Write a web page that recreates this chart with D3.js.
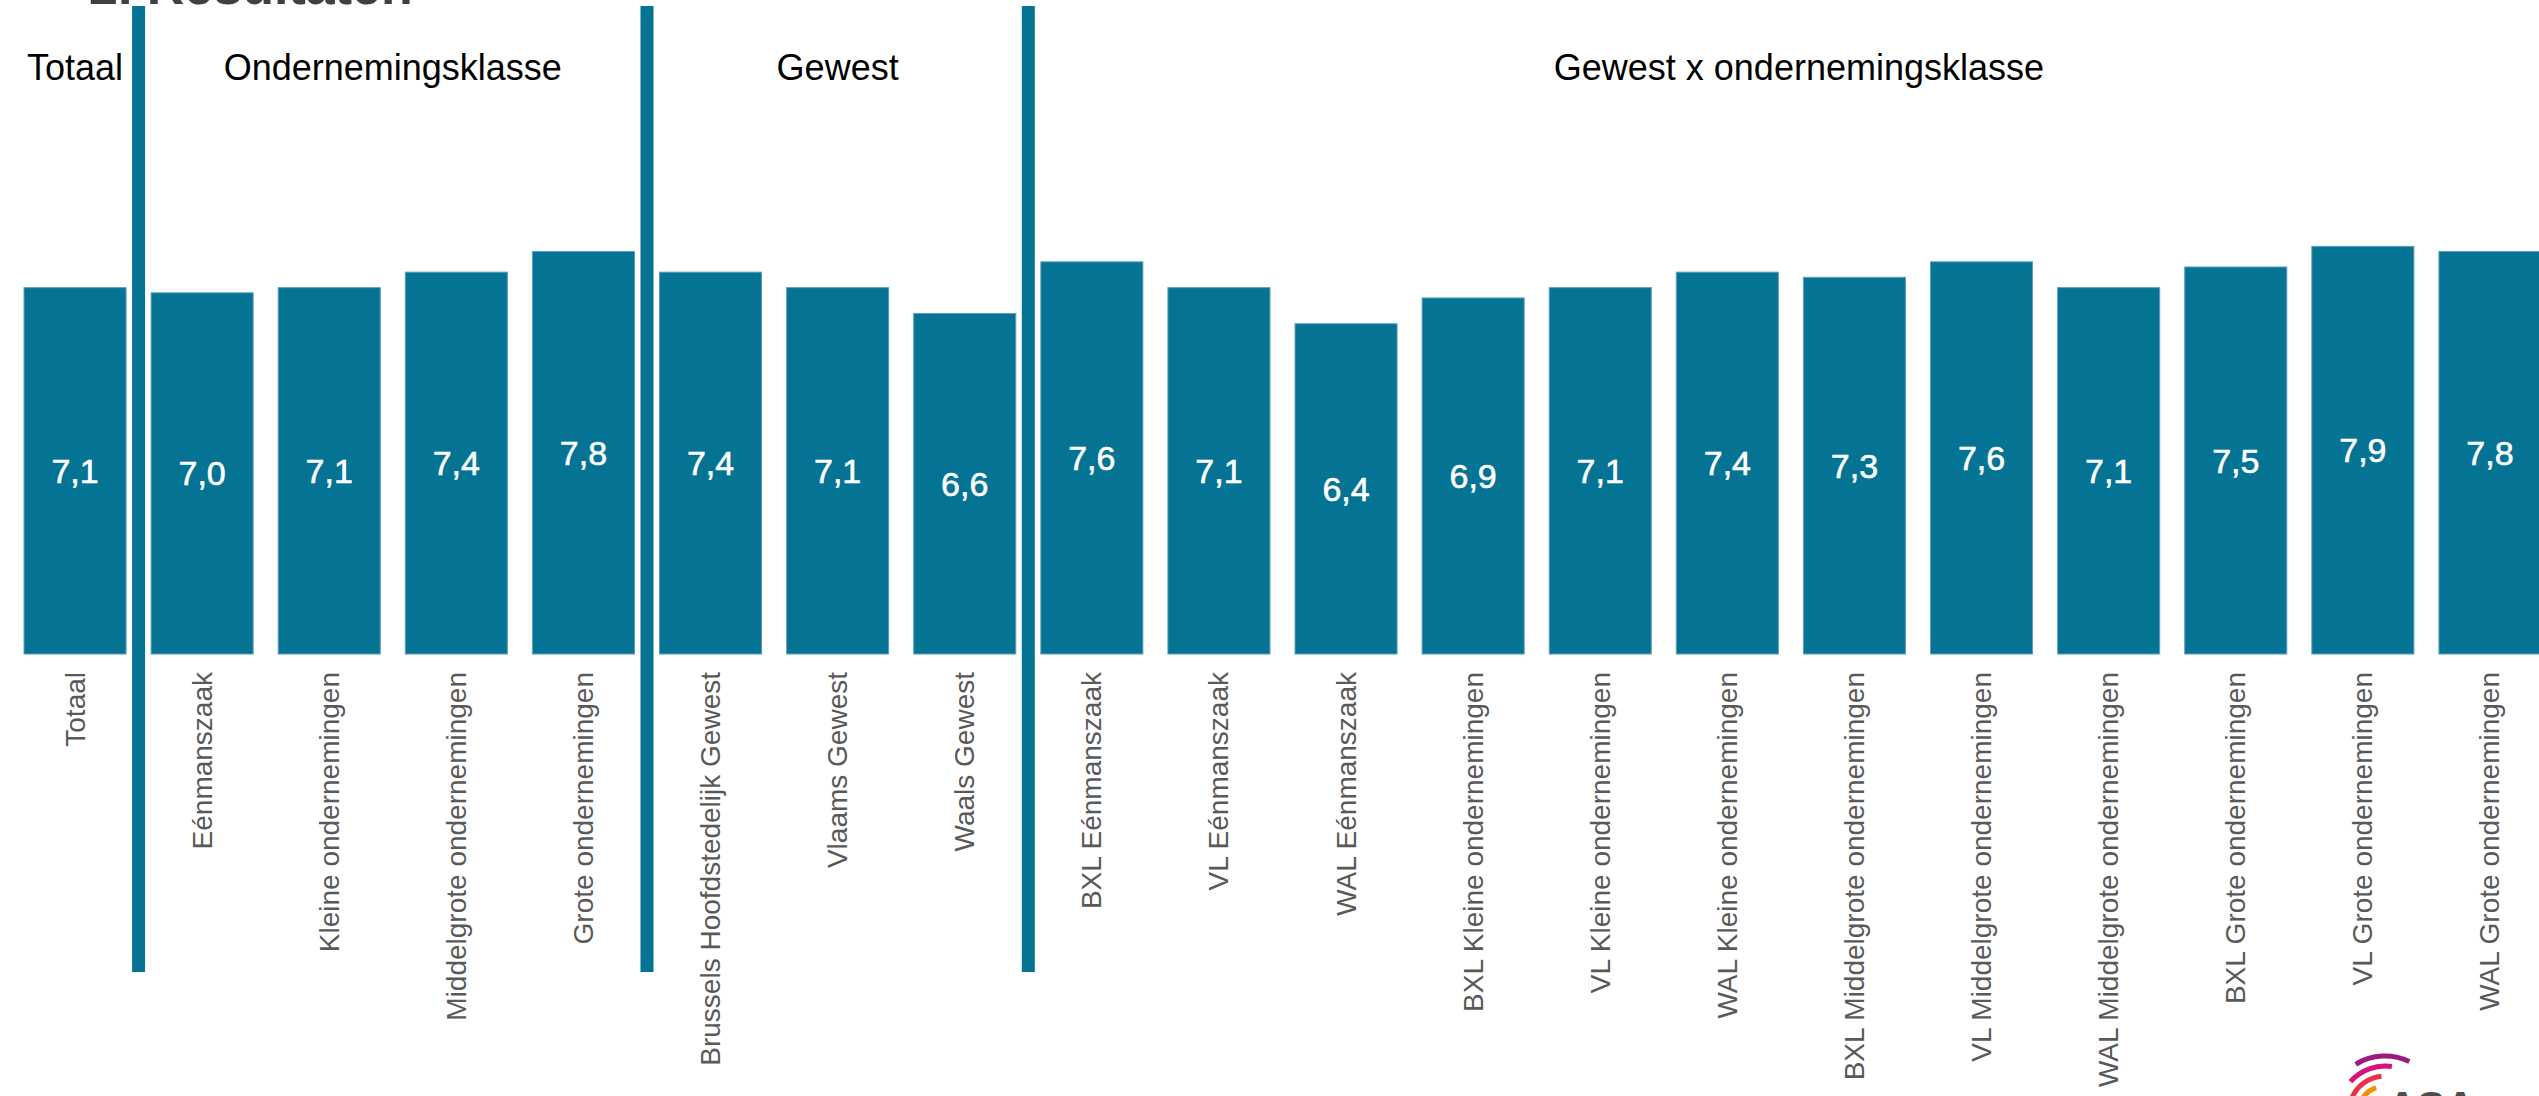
<!DOCTYPE html>
<html>
<head>
<meta charset="utf-8">
<script src="https://cdn.jsdelivr.net/npm/d3@7"></script>
<style>
  html, body { margin: 0; padding: 0; background: #ffffff; overflow: hidden; }
  svg { display: block; }
</style>
</head>
<body>
<svg id="chart" width="2539" height="1096"></svg>
<script>
// ---- data ----
const categories = [
  "Totaal",
  "Eénmanszaak",
  "Kleine ondernemingen",
  "Middelgrote ondernemingen",
  "Grote ondernemingen",
  "Brussels Hoofdstedelijk Gewest",
  "Vlaams Gewest",
  "Waals Gewest",
  "BXL Eénmanszaak",
  "VL Eénmanszaak",
  "WAL Eénmanszaak",
  "BXL Kleine ondernemingen",
  "VL Kleine ondernemingen",
  "WAL Kleine ondernemingen",
  "BXL Middelgrote ondernemingen",
  "VL Middelgrote ondernemingen",
  "WAL Middelgrote ondernemingen",
  "BXL Grote ondernemingen",
  "VL Grote ondernemingen",
  "WAL Grote ondernemingen"
];
const values = [7.1, 7.0, 7.1, 7.4, 7.8, 7.4, 7.1, 6.6, 7.6, 7.1, 6.4, 6.9, 7.1, 7.4, 7.3, 7.6, 7.1, 7.5, 7.9, 7.8];
const groupNames = ["Totaal", "Ondernemingsklasse", "Gewest", "Gewest x ondernemingsklasse"];
const groupOf = [0, 1, 1, 1, 1, 2, 2, 2, 3, 3, 3, 3, 3, 3, 3, 3, 3, 3, 3, 3];
const pageTitle = "2. Resultaten";

// ---- layout ----
const W = 2539, H = 1096;
const svg = d3.select("#chart");
const barColor = "#047394";

const x = d3.scaleBand()
  .domain(categories)
  .range([24, 2541])
  .paddingInner(0.197)
  .paddingOuter(0);

const y = d3.scaleLinear().domain([0, 10]).range([654, 138]);

const fmt = v => d3.format(".1f")(v).replace(".", ",");

const data = categories.map((c, i) => ({ cat: c, value: values[i], group: groupOf[i] }));

// partially visible slide title at the very top
svg.append("text")
  .attr("x", 89)
  .attr("y", 4)
  .attr("font-family", "Liberation Sans, Arial, sans-serif")
  .attr("font-weight", "bold")
  .attr("font-size", 52)
  .attr("fill", "#404040")
  .text(pageTitle);

// bars
svg.append("g").selectAll("rect")
  .data(data)
  .join("rect")
  .attr("x", d => x(d.cat))
  .attr("y", d => y(d.value))
  .attr("width", x.bandwidth())
  .attr("height", d => y(0) - y(d.value))
  .attr("fill", barColor)
  .attr("stroke", "#5d9fb7")
  .attr("stroke-width", 1);

// value labels (centred in bars)
svg.append("g").selectAll("text")
  .data(data)
  .join("text")
  .attr("x", d => x(d.cat) + x.bandwidth() / 2)
  .attr("y", d => (y(d.value) + y(0)) / 2)
  .attr("text-anchor", "middle")
  .attr("dominant-baseline", "central")
  .attr("font-family", "Liberation Sans, Arial, sans-serif")
  .attr("font-size", 34)
  .attr("fill", "#ffffff")
  .attr("stroke", "#ffffff")
  .attr("stroke-width", 0.6)
  .text(d => fmt(d.value));

// category labels (rotated)
svg.append("g").selectAll("text")
  .data(data)
  .join("text")
  .attr("transform", d => `translate(${x(d.cat) + x.bandwidth() / 2},672) rotate(-90)`)
  .attr("text-anchor", "end")
  .attr("dominant-baseline", "central")
  .attr("font-family", "Liberation Sans, Arial, sans-serif")
  .attr("font-size", 28)
  .attr("fill", "#595959")
  .text(d => d.cat);

// group dividers
const dividerX = [];
for (let i = 0; i < categories.length - 1; i++) {
  if (groupOf[i] !== groupOf[i + 1]) {
    const a = x(categories[i]) + x.bandwidth();
    const b = x(categories[i + 1]);
    dividerX.push((a + b) / 2);
  }
}
svg.append("g").selectAll("rect")
  .data(dividerX)
  .join("rect")
  .attr("x", d => d - 6.5)
  .attr("y", 6)
  .attr("width", 13)
  .attr("height", 966)
  .attr("fill", barColor);

// group headers
const headers = groupNames.map((name, g) => {
  const idx = groupOf.map((v, i) => v === g ? i : -1).filter(i => i >= 0);
  const x0 = x(categories[idx[0]]);
  const x1 = x(categories[idx[idx.length - 1]]) + x.bandwidth();
  return { name, cx: (x0 + x1) / 2 + (g === 3 ? 8 : 0) };
});
svg.append("g").selectAll("text")
  .data(headers)
  .join("text")
  .attr("x", d => d.cx)
  .attr("y", 80)
  .attr("text-anchor", "middle")
  .attr("font-family", "Liberation Sans, Arial, sans-serif")
  .attr("font-size", 36)
  .attr("fill", "#000000")
  .text(d => d.name);

// logo fragment bottom-right
const logo = svg.append("g").attr("transform", "translate(2385,1112)");
const arcs = [
  { r: 56, a0: -0.55, a1: 0.45, c: "#9b1a7d", w: 5 },
  { r: 46, a0: -0.85, a1: 0.15, c: "#d9127a", w: 5 },
  { r: 36, a0: -1.15, a1: -0.1, c: "#e8334a", w: 5 },
  { r: 26, a0: -1.35, a1: -0.35, c: "#f39200", w: 5 }
];
logo.selectAll("path")
  .data(arcs)
  .join("path")
  .attr("d", d => d3.arc()({ innerRadius: d.r - d.w / 2, outerRadius: d.r + d.w / 2, startAngle: d.a0, endAngle: d.a1 }))
  .attr("fill", d => d.c);
svg.append("text")
  .attr("x", 2387)
  .attr("y", 1121)
  .attr("font-family", "Liberation Sans, Arial, sans-serif")
  .attr("font-weight", "bold")
  .attr("font-size", 42)
  .attr("fill", "#4d4d4d")
  .text("ASA");
</script>
</body>
</html>
